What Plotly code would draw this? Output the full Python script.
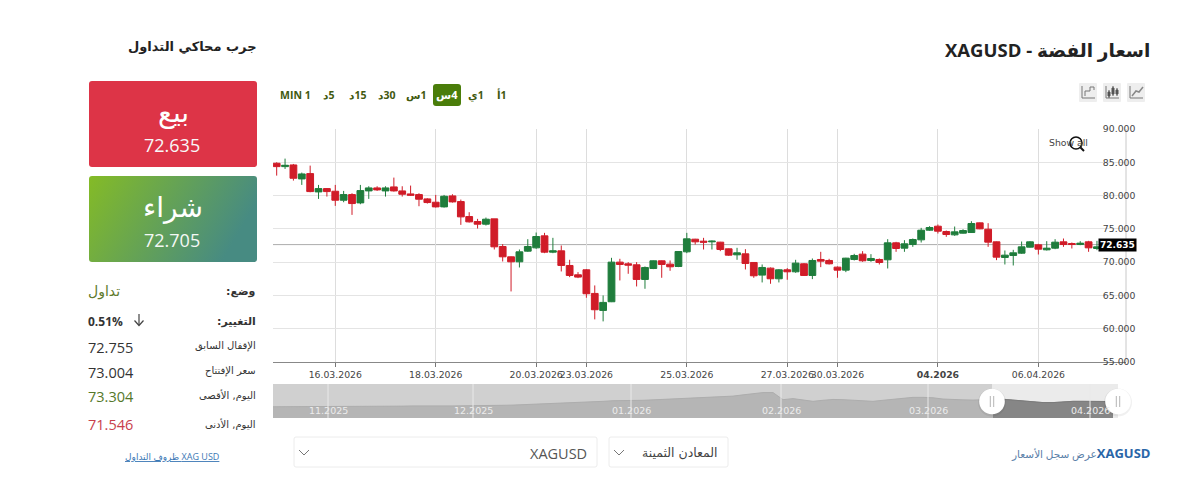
import base64
import plotly.graph_objects as go

# ---- data ----
opens = [84.85,84.35,84.6,82.5,83.3,80.55,81.05,80.65,79.3,80.15,78.9,80.7,81.15,80.7,81.3,80.7,80.25,80.15,79.5,79.0,78.3,79.95,79.1,76.85,76.1,75.7,76.5,72.35,70.8,70.05,71.65,72.15,73.95,71.5,71.7,69.5,68.1,68.85,65.3,62.75,64.05,70.0,69.75,69.6,67.4,69.05,70.2,69.7,69.35,71.55,73.45,73.15,73.05,73.0,72.0,71.1,71.25,69.95,68.05,69.1,67.5,68.85,68.55,69.75,68.0,70.4,70.25,69.25,68.8,70.4,71.2,70.25,70.4,70.35,72.9,72.1,72.65,73.35,74.8,75.4,74.6,74.1,74.35,74.45,75.9,74.95,73.05,70.7,71.0,71.35,72.25,72.6,71.85,72.1,73.05,72.8,72.65,73.05,72.05]
highs = [85.0,85.55,84.75,83.45,84.5,81.6,81.1,81.6,80.7,80.35,81.6,81.4,81.4,81.4,82.7,81.4,81.5,80.35,79.6,80.1,80.1,80.2,79.4,77.5,76.5,76.7,76.5,72.7,70.85,71.9,73.45,74.45,74.4,73.65,72.5,70.35,68.5,68.95,66.5,65.0,70.65,70.5,70.0,70.0,69.35,70.25,70.25,70.25,71.65,74.4,73.5,73.65,73.25,73.05,72.05,72.15,71.95,70.0,69.65,69.2,68.95,69.1,70.35,69.85,70.55,71.55,70.5,69.35,70.65,71.25,71.65,71.2,70.55,73.45,73.05,73.3,73.55,75.15,75.4,75.65,74.75,75.35,74.95,76.15,75.95,75.85,73.1,71.75,71.85,73.1,73.15,72.75,73.15,73.45,73.55,72.95,73.15,73.2,73.2]
lows = [83.0,84.0,82.25,81.6,80.5,79.5,79.85,78.45,79.0,77.1,78.7,79.5,80.7,79.85,80.6,79.85,79.95,78.4,78.8,78.2,78.2,78.95,75.6,75.95,75.05,75.5,71.9,70.1,65.6,69.2,71.55,72.0,71.35,71.35,68.6,67.75,67.6,64.65,61.4,61.1,64.0,67.25,68.25,66.35,66.0,68.95,67.65,68.7,69.25,71.35,72.65,71.9,71.9,71.65,70.95,70.35,68.9,67.65,66.95,66.75,66.95,67.35,68.4,67.95,67.45,69.25,69.65,67.65,68.5,70.25,70.05,70.05,69.65,69.05,71.55,71.55,72.3,72.95,74.7,74.3,73.8,73.95,74.3,74.4,74.95,72.3,70.3,69.65,69.5,71.25,72.2,71.15,71.75,71.95,72.3,72.05,72.55,71.55,71.8]
closes = [84.35,84.55,82.6,83.25,80.6,81.05,80.6,79.3,80.15,78.8,80.75,81.15,80.85,81.15,80.7,80.2,80.05,79.45,78.95,78.3,79.9,79.05,76.8,76.05,75.7,76.45,72.3,70.8,70.05,71.55,72.35,73.85,71.5,71.7,69.5,68.0,67.75,65.25,62.85,63.95,70.0,69.65,69.55,67.4,69.2,70.2,69.65,69.3,71.6,73.5,73.05,73.0,73.15,71.9,71.05,71.4,69.8,67.95,69.2,67.5,68.85,68.55,69.85,68.0,70.25,70.15,69.75,68.8,70.6,71.0,70.2,70.55,69.95,72.9,72.05,72.75,73.4,74.8,75.2,74.65,74.15,74.55,74.75,75.8,75.0,73.0,70.75,71.05,71.4,72.3,73.05,71.95,72.1,73.0,72.65,72.65,72.85,72.15,72.3]
candle_index = list(range(len(opens)))
date_tick_positions = [7, 19, 31, 37, 49, 61, 67, 79, 91]
date_tick_labels = ["16.03.2026", "18.03.2026", "20.03.2026", "23.03.2026", "25.03.2026",
                    "27.03.2026", "30.03.2026", "<b>04.2026</b>", "06.04.2026"]
price_ticks = [55, 60, 65, 70, 75, 80, 85, 90]
last_price = 72.635

nav_values = [54,54,54,55,54,55,55,56,56,56,56,57,57,57,58,57,57,58,58,58,58,59,60,61,62,64,65,66,68,69,71,73,76,80,83,83,84,85,87,89,93,96,97,98,99,102,105,111,118,122,122,88,93,86,80,85,89,88,85,81,80,85,90,96,99,99,97,91,88,87,86,87,88,90,86,81,77,74,74,78,80,80,80,80,79]
nav_index = list(range(len(nav_values)))
nav_month_positions = [5.5, 20, 35.8, 50.8, 65.5, 81.7]
nav_month_labels = ["11.2025", "12.2025", "01.2026", "02.2026", "03.2026", "04.2026"]
nav_selected_from = 72

W, H = 1200, 503
SANS = "Open Sans, DejaVu Sans, sans-serif"
VERD = "DejaVu Sans, sans-serif"
RLE, PDF = "\u202b", "\u202c"
def px(x): return x / W
def py(y): return 1 - y / H
def rtl(s): return RLE + s + PDF

annos, shapes = [], []
def text(x, y, s, size=12, color="#333", anchor="left", font=SANS):
    annos.append(dict(x=px(x), y=py(y), xref="paper", yref="paper", text=s, showarrow=False,
                      xanchor=anchor, yanchor="middle", borderpad=0, borderwidth=0,
                      font=dict(size=size, color=color, family=font)))
def rrect(x0, y0, x1, y1, r=3, fill="#fff", line="rgba(0,0,0,0)", lw=0):
    X0, X1, Y0, Y1 = px(x0), px(x1), py(y0), py(y1)
    rx, ry = r / W, r / H
    p = (f"M {X0+rx} {Y0} L {X1-rx} {Y0} Q {X1} {Y0} {X1} {Y0-ry} L {X1} {Y1+ry} Q {X1} {Y1} {X1-rx} {Y1} "
         f"L {X0+rx} {Y1} Q {X0} {Y1} {X0} {Y1+ry} L {X0} {Y0-ry} Q {X0} {Y0} {X0+rx} {Y0} Z")
    shapes.append(dict(type="path", path=p, xref="paper", yref="paper", fillcolor=fill,
                       line=dict(color=line, width=lw), layer="above"))
def poly(points, color="#666", lw=1, fill=None):
    p = "M " + " L ".join(f"{px(a)} {py(b)}" for a, b in points)
    d = dict(type="path", path=p, xref="paper", yref="paper", line=dict(color=color, width=lw), layer="above")
    if fill:
        d["path"] = p + " Z"
        d["fillcolor"] = fill
    shapes.append(d)
def circle(cx, cy, r, fill="#fff", line="rgba(0,0,0,0)", lw=0):
    shapes.append(dict(type="circle", xref="paper", yref="paper", x0=px(cx-r), x1=px(cx+r),
                       y0=py(cy-r), y1=py(cy+r), fillcolor=fill, line=dict(color=line, width=lw), layer="above"))

fig = go.Figure()
fig.add_trace(go.Candlestick(
    x=candle_index, open=opens, high=highs, low=lows, close=closes, xaxis="x", yaxis="y",
    whiskerwidth=0,
    increasing=dict(line=dict(color="#1f7d3c", width=1), fillcolor="#1f7d3c"),
    decreasing=dict(line=dict(color="#d01c28", width=1), fillcolor="#d01c28"),
    showlegend=False))
fig.add_trace(go.Scatter(x=nav_index, y=nav_values, xaxis="x2", yaxis="y2", mode="lines",
                         line=dict(color="#adadad", width=1), fill="tozeroy", fillcolor="#b5b5b5",
                         showlegend=False, hoverinfo="skip"))
fig.add_trace(go.Scatter(x=nav_index[nav_selected_from:], y=nav_values[nav_selected_from:], xaxis="x2", yaxis="y2",
                         mode="lines", line=dict(color="#7a7a7a", width=1), fill="tozeroy", fillcolor="#868686",
                         showlegend=False, hoverinfo="skip"))

# last price line, navigator backgrounds and month lines
shapes.append(dict(type="line", xref="x domain", yref="y", x0=0, x1=1, y0=last_price, y1=last_price,
                   line=dict(color="#adadad", width=1), layer="below"))
shapes.append(dict(type="line", xref="paper", yref="paper", x0=px(1126), x1=px(1126), y0=py(129), y1=py(362),
                   line=dict(color="#c8c8c8", width=1), layer="below"))
shapes.append(dict(type="rect", xref="x2 domain", yref="y2 domain", x0=0, x1=1, y0=0, y1=1,
                   fillcolor="#d0d0d0", line=dict(width=0), layer="below"))
shapes.append(dict(type="rect", xref="x2", yref="y2 domain", x0=nav_selected_from - 0.1, x1=84.5, y0=0, y1=1,
                   fillcolor="#ebebeb", line=dict(width=0), layer="below"))
for pos, lab in zip(nav_month_positions, nav_month_labels):
    shapes.append(dict(type="line", xref="x2", yref="y2 domain", x0=pos, x1=pos, y0=0, y1=1,
                       line=dict(color="#e9e9e9", width=1), layer="above"))
    annos.append(dict(x=pos, y=py(410), xref="x2", yref="paper", text=lab, showarrow=False,
                      xanchor="center", yanchor="middle",
                      font=dict(size=9.5, color="#ececec", family=VERD)))

# navigator handles
for hx in (992, 1118):
    circle(hx, 402.5, 14, fill="rgba(0,0,0,0.06)")
    circle(hx, 401.5, 12.8, fill="#ffffff")
    poly([(hx-1.7, 396), (hx-1.7, 407)], "#b5b5b5", 1)
    poly([(hx+1.7, 396), (hx+1.7, 407)], "#b5b5b5", 1)

# price tag
annos.append(dict(x=px(1117), y=last_price, xref="paper", yref="y", text="<b>72.635</b>", showarrow=False,
                  xanchor="center", yanchor="middle", bgcolor="#000000", borderpad=1,
                  font=dict(size=9, color="#ffffff", family=VERD)))

# headings
text(1150, 49, "<b>" + rtl("اسعار الفضة - XAGUSD") + "</b>", 18.5, "#222", "right")
text(257, 46, "<b>جرب محاكي التداول</b>", 13, "#222", "right", VERD)

# sell / buy cards
rrect(89, 81, 257, 167, 3, fill="#dd3447")
text(173, 113, "بيع", 28, "#ffffff", "center", VERD)
text(172, 145, "72.635", 18, "#f8f8f8", "center")
svg = ('<svg xmlns="http://www.w3.org/2000/svg" width="168" height="86" preserveAspectRatio="none">'
       '<defs><linearGradient id="g" x1="0" y1="0" x2="1" y2="0.3"><stop offset="0" stop-color="#84bb26"/>'
       '<stop offset="1" stop-color="#478b82"/></linearGradient></defs>'
       '<rect width="168" height="86" rx="3" ry="3" fill="url(#g)"/></svg>')
gradient_src = "data:image/svg+xml;base64," + base64.b64encode(svg.encode()).decode()
images = [dict(source=gradient_src, xref="paper", yref="paper", x=px(89), y=py(176), sizex=168/W, sizey=86/H,
               xanchor="left", yanchor="top", sizing="stretch", layer="above")]
text(173, 208, "شراء", 28, "#ffffff", "center", VERD)
text(172, 240, "72.705", 18, "#f4f8f4", "center")

# left panel
text(256, 291, "<b>:وضع</b>", 11, "#333", "right", VERD)
text(88, 291, "تداول", 14, "#607a2c", "left", VERD)
text(256, 321, "<b>:التغيير</b>", 11, "#333", "right", VERD)
text(88, 321, "<b>0.51%</b>", 12, "#333", "left")
poly([(139, 314), (139, 325)], "#444", 1.2)
poly([(134.5, 320.5), (139, 325.5), (143.5, 320.5)], "#444", 1.2)
rows = [("الإقفال السابق", "72.755", "#333", 345, 347),
        ("سعر الإفتتاح", "73.004", "#333", 370, 372),
        ("اليوم, الأقصى", "73.304", "#55782a", 394, 396),
        ("اليوم, الأدنى", "71.546", "#c8404c", 423, 424)]
for lab, val, col, yl, yv in rows:
    text(256, yl + 1, rtl(lab), 10, "#333", "right", VERD)
    text(88, yv, val, 14.5, col, "left")
text(172, 456, "<u>" + rtl("XAG USD ظروف التداول") + "</u>", 9, "#3b78b5", "center")

# timeframe buttons
OL = "#41590f"
rrect(433, 84, 461, 106, 3, fill="#4a7d0a")
text(447, 95, "<b>" + rtl("4س") + "</b>", 11, "#ffffff", "center")
for xc, s in [(502, "1أ"), (476, "1ي"), (416, "1س"), (386, "30د"), (357, "15د"), (328, "5د")]:
    text(xc, 95, "<b>" + rtl(s) + "</b>", 10.5, OL, "center")
text(295, 95, "<b>MIN 1</b>", 10.5, OL, "center")

# chart type icons
for x0 in (1079, 1103, 1127):
    rrect(x0, 83, x0 + 18, 102, 1, fill="#eeeeee")
    poly([(x0 + 3, 86), (x0 + 3, 98), (x0 + 16, 98)], "#777", 1)
poly([(1085, 96), (1085, 91), (1090, 91), (1090, 87), (1094, 87), (1094, 90)], "#777", 1)
for cx, a, b in [(1109, 92, 96), (1113, 88, 94), (1117, 90, 94)]:
    poly([(cx, a - 2), (cx, b + 2)], "#555", 1)
    poly([(cx - 1, a), (cx + 1, a), (cx + 1, b), (cx - 1, b)], "#555", 1, fill="#555")
poly([(1132, 96), (1136, 91), (1139, 92), (1143, 87)], "#888", 1.5)

# Show all + magnifier
text(1068, 143, "Show all", 9.3, "#444", "center", VERD)
circle(1076, 143, 6, fill="rgba(0,0,0,0)", line="#111", lw=1.6)
poly([(1080.5, 147.5), (1084, 151)], "#111", 2)

# selects
rrect(294, 437, 597, 467, 2, fill="#ffffff", line="#ececec", lw=1)
text(587, 453, "XAGUSD", 14.5, "#555", "right")
poly([(299, 450), (304, 455), (309, 450)], "#777", 1)
rrect(609, 437, 728, 467, 2, fill="#ffffff", line="#ececec", lw=1)
text(718, 452, rtl("المعادن الثمينة"), 12.5, "#444", "right", VERD)
poly([(614, 450), (619, 455), (624, 450)], "#777", 1)
text(1150, 453, '<span style="color:#2a66a8"><b>' + RLE + 'XAGUSD</b></span><span style="font-size:10.5px">عرض سجل الأسعار' + PDF + '</span>', 13, "#5a80a8", "right")

fig.update_layout(
    width=W, height=H, margin=dict(l=0, r=0, t=0, b=0, autoexpand=False), autosize=False,
    paper_bgcolor="#ffffff", plot_bgcolor="#ffffff", showlegend=False,
    boxgap=0.1, boxgroupgap=0.1, dragmode=False,
    xaxis=dict(domain=[px(273), px(1126)], range=[-0.44, 101.47], anchor="y",
               rangeslider=dict(visible=False), tickmode="array", tickvals=date_tick_positions,
               ticktext=date_tick_labels, showgrid=True, gridcolor="#dddddd", gridwidth=1, zeroline=False,
               showline=True, linecolor="#888888", linewidth=1, ticks="outside", ticklen=4, tickcolor="#777777",
               tickfont=dict(size=9.3, color="#444444", family=VERD), tickangle=0),
    yaxis=dict(domain=[py(362), py(129)], range=[55, 90], anchor="free", position=px(1096), side="right",
               tickmode="array", tickvals=price_ticks, ticktext=[f"{v:.3f}" for v in price_ticks],
               showgrid=True, gridcolor="#e4e4e4", gridwidth=1, zeroline=False, showline=False,
               ticks="outside", ticklen=4, tickcolor="rgba(0,0,0,0)",
               tickfont=dict(size=9.3, color="#444444", family=VERD)),
    xaxis2=dict(domain=[px(273), px(1118)], range=[0, 84.5], anchor="y2", visible=False),
    yaxis2=dict(domain=[py(418), py(384)], range=[0, 163.2], anchor="x2", visible=False),
    annotations=annos, shapes=shapes, images=images,
)
fig.write_html("out.html", config=dict(displayModeBar=False),
               post_script="document.body.style.margin='0';document.documentElement.style.overflow='hidden';")
